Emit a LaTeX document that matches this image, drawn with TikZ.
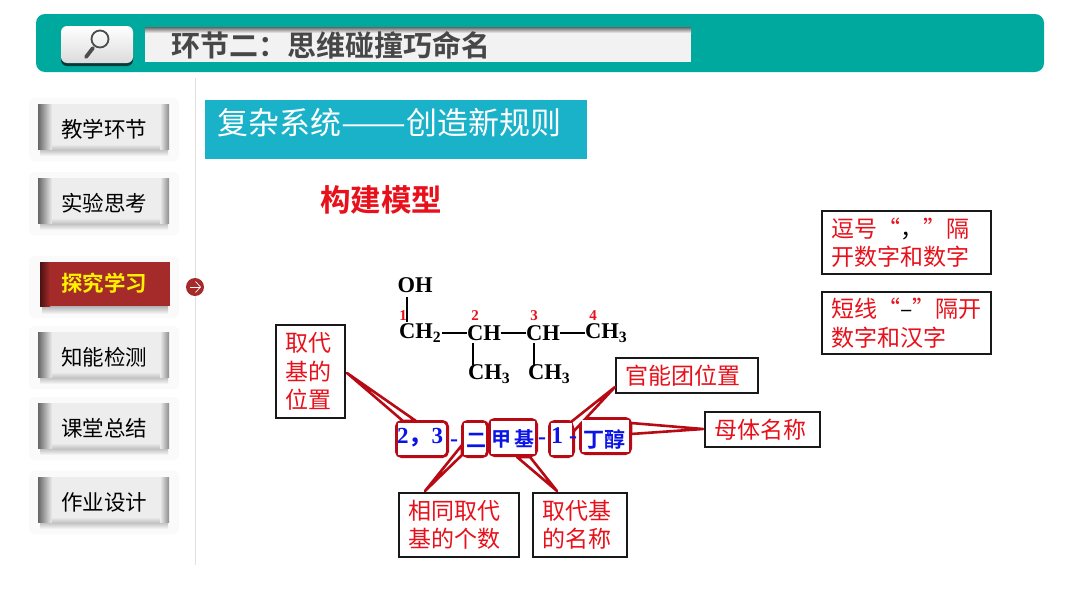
\documentclass[tikz,border=0pt]{standalone}
\usepackage{fontspec}
\setmainfont{Liberation Serif}
\newfontfamily\cjk{Noto Sans CJK SC}
\newfontfamily\cjkb{Noto Sans CJK SC Bold}
\usetikzlibrary{calc}
\definecolor{teal1}{HTML}{00A99D}
\definecolor{cyanb}{HTML}{1AB2C9}
\definecolor{wine}{HTML}{B80A14}
\definecolor{brick}{HTML}{A52A2A}
\definecolor{txtred}{HTML}{E8101A}
\definecolor{bluet}{HTML}{0A14E6}
\tikzset{
 x=1pt,y=-1pt,
 navbtn/.style={inner sep=0pt,font=\cjk\fontsize{21.5}{21.5}\selectfont,text=black},
 notebox/.style={draw=black!90,line width=2.4pt,fill=white,inner xsep=9pt,inner ysep=0pt,text=txtred,font=\cjk\fontsize{23}{28.5}\selectfont,align=left,anchor=north west},
 bubble/.style={draw=wine,line width=2.8pt,rounded corners=5pt,fill=white,anchor=north west,inner sep=0pt},
 wedgeshape/.style={fill=white,draw=wine,line width=2.6pt,line join=round},
 chem/.style={font=\bfseries\fontsize{22.5}{22.5}\selectfont,text=black,inner sep=0pt},
 num/.style={font=\bfseries\fontsize{15}{15}\selectfont,text=txtred,inner sep=0pt},
 bond/.style={draw=black,line width=1.3pt},
 bluecjk/.style={font=\cjkb\fontsize{20}{20}\selectfont,text=bluet,inner sep=0pt},
 bluelat/.style={font=\bfseries\fontsize{24}{24}\selectfont,text=bluet,inner sep=0pt}
}
\newcommand{\navitem}[3]{% top y, name, text
 \fill[black!2,rounded corners=6pt] (29,#1-6) rectangle (179,#1+57);
 \shade[top color=black!30,bottom color=black!2] (40,#1+44) rectangle (168,#1+52);
 \fill[black!7] (38,#1) rectangle (169,#1+45);
 \shade[left color=black!60,right color=black!7] (38,#1) rectangle (52,#1+45);
 \shade[left color=black!7,right color=black!45] (160,#1) rectangle (169,#1+45);
 \shade[top color=black!7,bottom color=black!22] (52,#1+40) rectangle (160,#1+45);
 \node[navbtn] (#2) at (104,#1+25) {#3};
}
\begin{document}
\begin{tikzpicture}
\useasboundingbox (0,0) rectangle (1080,608);
\fill[white] (0,0) rectangle (1080,608);
% header
\fill[teal1,rounded corners=9pt] (36,14) rectangle (1044,72);
\fill[black!65!teal1,rounded corners=6pt] (61,32) rectangle (133,66);
\shade[top color=white,bottom color=black!14,rounded corners=6pt] (61,26) rectangle (133,63);
\draw[black!70,line width=1.8pt] (100,39) circle (8.5pt);
\draw[black!70,line width=3.8pt,line cap=round] (93,48) -- (86,57);
\fill[black!5] (145,28) rectangle (691,62);
\shade[top color=black!60,bottom color=black!5] (145,27) rectangle (691,33);
\node[font=\cjkb\fontsize{29}{29}\selectfont,text=black!72,anchor=west,inner sep=0pt] (title) at (171,45) {环节二：思维碰撞巧命名};
% divider
\draw[black!12,line width=1pt] (195,78) -- (195,565);
% subtitle
\fill[cyanb] (205,100) rectangle (587,159);
\node[font=\cjk\fontsize{31}{31}\selectfont,text=white,anchor=west,inner sep=0pt] (sub) at (217,123) {复杂系统\scalebox{1.25}[1]{——}创造新规则};
\node[font=\cjkb\fontsize{30.5}{30.5}\selectfont,text=txtred,inner sep=0pt] (model) at (381,200) {构建模型};
% nav
\navitem{104}{n1}{教学环节}
\navitem{178}{n2}{实验思考}
\navitem{332}{n4}{知能检测}
\navitem{403}{n5}{课堂总结}
\navitem{477}{n6}{作业设计}
\fill[black!2,rounded corners=6pt] (29,256) rectangle (179,318);
\shade[top color=black!30,bottom color=black!2] (42,306) rectangle (168,314);
\fill[brick] (40,262) rectangle (170,306);
\shade[left color=black!55!brick,right color=brick] (40,262) rectangle (50,306);
\node[navbtn,text=yellow,font=\cjkb\fontsize{21.5}{21.5}\selectfont] (n3) at (104,283) {探究学习};
\node[circle,fill=brick,minimum size=18pt,inner sep=0pt] (go) at (195,287) {};
\draw[white,line width=.7pt] (189.5,287) -- (200,287);
\draw[white,line width=.7pt] (195.5,281.5) -- (200.5,287) -- (195.5,292.5);
% molecule
\node[chem] (oh) at (415,285) {OH};
\node[chem,anchor=west] (c1) at (399,333) {CH\textsubscript{2}};
\node[chem,anchor=west] (c2) at (467,333) {CH};
\node[chem,anchor=west] (c3) at (526,333) {CH};
\node[chem,anchor=west] (c4) at (585,333) {CH\textsubscript{3}};
\node[chem,anchor=west] (m2) at (468,374) {CH\textsubscript{3}};
\node[chem,anchor=west] (m3) at (528,374) {CH\textsubscript{3}};
\coordinate (o1) at (407,297); \coordinate (o2) at (407,322);
\coordinate (a1) at (473,343); \coordinate (a2) at (473,365);
\coordinate (d1) at (534,343); \coordinate (d2) at (534,365);
\draw[bond] (o1) -- (o2);
\draw[bond] (c1.east) -- (c2.west);
\draw[bond] (c2.east) -- (c3.west);
\draw[bond] (c3.east) -- (c4.west);
\draw[bond] (a1) -- (a2);
\draw[bond] (d1) -- (d2);
\node[num] (l1) at (403,316) {1};
\node[num] (l2) at (475,316) {2};
\node[num] (l3) at (534,316) {3};
\node[num] (l4) at (593,316) {4};
% notes
\node[notebox,minimum width=68.6pt,minimum height=92.6pt,text width=50.6pt] (p) at (275,324) {取代\\基的\\位置};
\node[notebox,minimum width=141.6pt,minimum height=34.6pt,text width=123.6pt] (g) at (615,357) {官能团位置};
\node[notebox,minimum width=114.6pt,minimum height=34.6pt,text width=96.6pt] (m) at (704,411) {母体名称};
\node[notebox,minimum width=119.6pt,minimum height=63.6pt,text width=101.6pt] (c) at (398,492) {相同取代\\基的个数};
\node[notebox,minimum width=93.6pt,minimum height=63.6pt,text width=75.6pt] (na) at (532,492) {取代基\\的名称};
\node[notebox,minimum width=168.6pt,minimum height=62.6pt,text width=150.6pt] (e1) at (821,210) {逗号“{\color{black}，}”隔\\开数字和数字};
\node[notebox,minimum width=168.6pt,minimum height=61.6pt,text width=150.6pt] (e2) at (821,291) {短线“{\color{black}–}”隔开\\数字和汉字};
% bubbles
\node[bubble,minimum width=51.2pt,minimum height=35.2pt] (b1) at (395,420) {};
\node[bubble,minimum width=25.2pt,minimum height=35.2pt] (b2) at (461,420) {};
\node[bubble,minimum width=47.2pt,minimum height=36.2pt] (b3) at (488,418) {};
\node[bubble,minimum width=24.2pt,minimum height=35.2pt] (b4) at (548,420) {};
\node[bubble,minimum width=50.2pt,minimum height=35.2pt] (b5) at (579,417) {};
% callout wedges
\coordinate (tp) at (347,373); \coordinate (tc) at (425,491);
\coordinate (tn) at (557,491); \coordinate (tg) at (615,387);
\coordinate (tm) at (703,429);
\path[wedgeshape] (tp) -- (403,421) -- (416,421) -- cycle;
\path[wedgeshape] (tc) -- (462,445) -- (462,455) -- cycle;
\path[wedgeshape] (tn) -- (517,457) -- (530,457) -- cycle;
\path[wedgeshape] (tg) -- (571,422) -- (574,431) -- cycle;
\path[wedgeshape] (tm) -- (631,423) -- (631,434) -- cycle;
\fill[white] (398,423) rectangle (444,454.5);
\fill[white] (464,423) rectangle (485,455);
\fill[white] (491,421) rectangle (535,454);
\fill[white] (551,423) rectangle (572,455);
\fill[white] (582,420) rectangle (629,452);
% formula text
\node[bluelat,font=\bfseries\fontsize{23}{23}\selectfont] (t1) at (420,438) {2{\cjkb ，}3};
\node[bluelat] (h1) at (454,443) {-};
\node[bluecjk] (t2) at (476,440) {二};
\node[bluecjk] (t3) at (513,439) {甲\,基};
\node[bluelat] (h2) at (542,441) {-};
\node[bluelat] (t4) at (557,436) {1};
\node[bluelat] (h3) at (573,440) {-};
\node[bluecjk,font=\cjkb\fontsize{21}{21}\selectfont] (t5) at (604,439) {丁醇};
\end{tikzpicture}
\end{document}
